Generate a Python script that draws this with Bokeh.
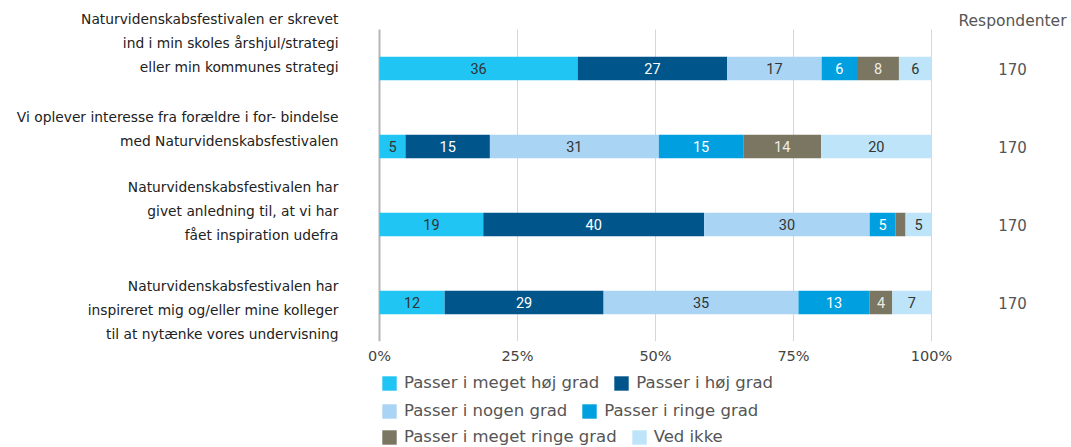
from bokeh.plotting import figure
from bokeh.layouts import column
from bokeh.models import ColumnDataSource, Range1d, FixedTicker, Legend, LegendItem
from bokeh.core.properties import value
from bokeh.embed import file_html
from bokeh.resources import INLINE

# ---------------- data ----------------
questions = [
    "Naturvidenskabsfestivalen er skrevet\nind i min skoles årshjul/strategi\neller min kommunes strategi",
    "Vi oplever interesse fra forældre i for- bindelse\nmed Naturvidenskabsfestivalen",
    "Naturvidenskabsfestivalen har\ngivet anledning til, at vi har\nfået inspiration udefra",
    "Naturvidenskabsfestivalen har\ninspireret mig og/eller mine kolleger\ntil at nytænke vores undervisning",
]
categories = ["Passer i meget høj grad", "Passer i høj grad", "Passer i nogen grad",
              "Passer i ringe grad", "Passer i meget ringe grad", "Ved ikke"]
meget_hoj = [35.9, 4.7, 18.8, 11.8]
hoj = [27.1, 15.3, 40.0, 28.8]
nogen = [17.1, 30.6, 30.0, 35.3]
ringe = [6.4, 15.3, 4.7, 12.9]
meget_ringe = [7.6, 14.1, 1.8, 4.1]
ved_ikke = [5.9, 20.0, 4.7, 7.1]
respondenter = [170, 170, 170, 170]
x_ticks = [0, 25, 50, 75, 100]
x_tick_labels = ["0%", "25%", "50%", "75%", "100%"]
resp_header = "Respondenter"

# ---------------- layout / styles ----------------
W = 1071
TOP_H = 369          # bars + axis
FRAME_H = 341        # frame height of the bar figure
BOT_H = 447 - TOP_H  # legend strip
ZERO_PX, FULL_PX = 379, 931
ROW_PX = 78
colors = ["#20C5F3", "#00558A", "#A9D4F4", "#009FDF", "#7A7662", "#BDE4F8"]
label_colors = ["#333333", "#ffffff", "#333333", "#ffffff", "#eeece4", "#333333"]
series = [meget_hoj, hoj, nogen, ringe, meget_ringe, ved_ikke]
keys = ["s%d" % i for i in range(len(categories))]
n = len(questions)
ys = [n - 0.5 - i for i in range(n)]

ppu = (FULL_PX - ZERO_PX) / 100.0
x_start = -ZERO_PX / ppu
x_end = x_start + W / ppu

data = {"y": ys}
for k, s in zip(keys, series):
    data[k] = s
source = ColumnDataSource(data)

p = figure(width=W, height=TOP_H, output_backend="svg", toolbar_location=None,
           x_range=Range1d(x_start, x_end), y_range=Range1d(0, FRAME_H / ROW_PX),
           y_axis_location=None,
           min_border_left=0, min_border_right=0, min_border_top=0,
           min_border_bottom=TOP_H - FRAME_H)
p.outline_line_color = None
p.xgrid.grid_line_color = None
p.ygrid.grid_line_color = None

# grid lines (only over the bar area) at the tick positions
grid_colors = ["#b5b5b5"] + ["#d6d6d6"] * (len(x_ticks) - 1)
grid_widths = [2] + [1] * (len(x_ticks) - 1)
p.segment(x0=x_ticks, x1=x_ticks, y0=[0] * len(x_ticks), y1=[n] * len(x_ticks),
          line_color=grid_colors, line_width=grid_widths)

renderers = p.hbar_stack(keys, y="y", height=0.30, color=colors, line_color=None, source=source)

# segment value labels
lx, ly, lt, lc = [], [], [], []
for i in range(n):
    cum = 0.0
    for j, s in enumerate(series):
        v = s[i]
        if v >= 3:
            lx.append(cum + v / 2)
            ly.append(ys[i])
            lt.append(str(round(v)))
            lc.append(label_colors[j])
        cum += v
p.text(x=lx, y=ly, text=lt, text_color=lc, text_align="center", text_baseline="middle",
       text_font=value("Roboto"), text_font_size="14.5px")

# x axis
p.xaxis.ticker = FixedTicker(ticks=x_ticks)
p.xaxis.major_label_overrides = {t: lab for t, lab in zip(x_ticks, x_tick_labels)}
p.xaxis.axis_line_color = None
p.xaxis.major_tick_line_color = None
p.xaxis.minor_tick_line_color = None
p.xaxis.major_tick_out = 0
p.xaxis.major_tick_in = 0
p.xaxis.major_label_standoff = 6
p.xaxis.major_label_text_font = "DejaVu Sans"
p.xaxis.major_label_text_font_size = "14.5px"
p.xaxis.major_label_text_color = "#444444"

# question labels (left)
first_offsets = [-50, -30, -38, -17]
line_gap = 24.3
qx, qy, qt, qo = [], [], [], []
for i, q in enumerate(questions):
    for k, line in enumerate(q.split("\n")):
        qx.append(0)
        qy.append(ys[i])
        qt.append(line)
        qo.append(first_offsets[i] + k * line_gap)
p.text(x=qx, y=qy, text=qt, y_offset=qo, x_offset=-41, text_align="right",
       text_baseline="middle", text_font=value("DejaVu Sans"), text_font_size="13.8px",
       text_color="#222222")

# respondents column
p.text(x=[100] * n, y=ys, text=[str(r) for r in respondenter], x_offset=81,
       text_align="center", text_baseline="middle", text_font=value("DejaVu Sans"),
       text_font_size="15px", text_color="#555555")
p.text(x=[100], y=[n], text=[resp_header], x_offset=81, y_offset=-9,
       text_align="center", text_baseline="middle", text_font=value("DejaVu Sans"),
       text_font_size="15.5px", text_color="#555555")

# ---------------- legend strip ----------------
q = figure(width=W, height=BOT_H, output_backend="svg", toolbar_location=None,
           x_range=Range1d(0, 1), y_range=Range1d(0, 1),
           x_axis_location=None, y_axis_location=None,
           min_border_left=0, min_border_right=0, min_border_top=0, min_border_bottom=0)
q.outline_line_color = None
q.xgrid.grid_line_color = None
q.ygrid.grid_line_color = None
# legend swatches (kept outside the visible range of this strip)
leg_r = [q.hbar(y=[-5], left=[0], right=[1], height=0.3, color=c, line_color=None) for c in colors]

rows = [(0, 1), (2, 3), (4, 5)]
row_bottoms = [55, 27, 1]
for (a, b), yb in zip(rows, row_bottoms):
    leg = Legend(items=[LegendItem(label=categories[a], renderers=[leg_r[a]]),
                        LegendItem(label=categories[b], renderers=[leg_r[b]])],
                 orientation="horizontal", location=(ZERO_PX + 1, yb),
                 padding=0, margin=0, spacing=13, label_standoff=6,
                 glyph_width=18, glyph_height=18, label_height=18,
                 border_line_color=None, background_fill_alpha=0,
                 label_text_font="DejaVu Sans", label_text_font_size="16.5px",
                 label_text_color="#555555", label_text_baseline="middle")
    q.add_layout(leg, "center")

layout = column(p, q, spacing=0)
open("out.html", "w").write(file_html(layout, INLINE))
